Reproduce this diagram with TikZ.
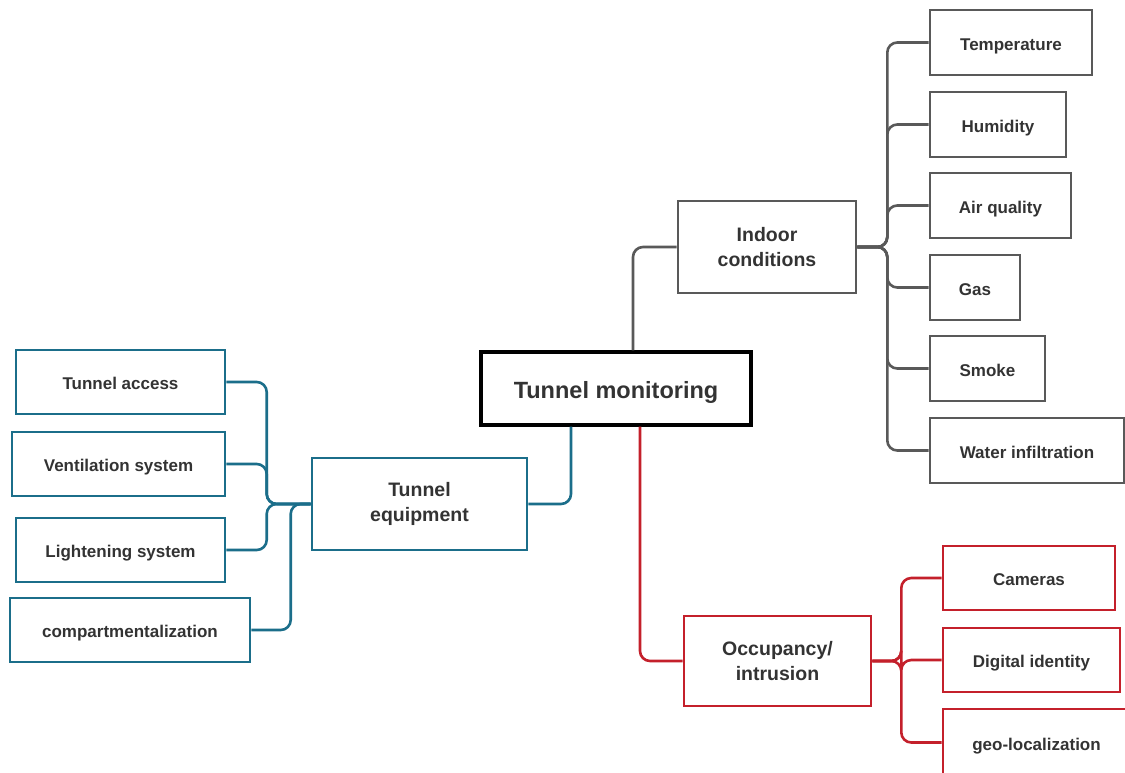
\documentclass[tikz,border=0pt]{standalone}
\usepackage{fontspec}
\setmainfont{Liberation Sans}
\definecolor{cgray}{HTML}{595959}
\definecolor{cteal}{HTML}{1B6E8A}
\definecolor{cred}{HTML}{C4202B}
\definecolor{ctext}{HTML}{333333}
\begin{document}
\begin{tikzpicture}[x=1pt,y=-1pt,
  basebox/.style={draw,line width=2.6pt,inner sep=0pt,align=center,text=ctext},
  box/.style={basebox,text height=18.6pt,text depth=3.6pt,
    font=\fontsize{17}{21}\selectfont\bfseries},
  midbox/.style={basebox,font=\fontsize{19.5}{25}\selectfont\bfseries},
  rootbox/.style={basebox,draw=black,line width=3.2pt,text height=23.9pt,text depth=4.9pt,
    font=\fontsize{23.5}{28}\selectfont\bfseries},
  link/.style={line width=2.6pt,rounded corners=10pt}]
\clip (0,0) rectangle (1125,772);
\fill[white] (0,0) rectangle (1125,772);
% root
\node[rootbox,minimum width=270pt,minimum height=73pt] (root) at (616,388.5) {Tunnel monitoring};
% indoor
\node[midbox,draw=cgray,minimum width=178pt,minimum height=92pt] (ind) at (767,247) {Indoor\\conditions};
\node[box,draw=cgray,minimum width=162pt,minimum height=65pt] (temp) at (1011,42.5) {Temperature};
\node[box,draw=cgray,minimum width=136pt,minimum height=65pt] (hum) at (998,124.5) {Humidity};
\node[box,draw=cgray,minimum width=141pt,minimum height=65pt] (air) at (1000.5,205.5) {Air quality};
\node[box,draw=cgray,minimum width=90pt,minimum height=65pt] (gas) at (975,287.5) {Gas};
\node[box,draw=cgray,minimum width=115pt,minimum height=65pt] (smoke) at (987.5,368.5) {Smoke};
\node[box,draw=cgray,minimum width=194pt,minimum height=65pt] (water) at (1027,450.5) {Water infiltration};
% equipment
\node[midbox,draw=cteal,minimum width=215pt,minimum height=92pt] (te) at (419.5,504) {Tunnel\\equipment};
\node[box,draw=cteal,minimum width=209pt,minimum height=64pt] (ta) at (120.5,382) {Tunnel access};
\node[box,draw=cteal,minimum width=213pt,minimum height=64pt] (vs) at (118.5,464) {Ventilation system};
\node[box,draw=cteal,minimum width=209pt,minimum height=64pt] (ls) at (120.5,550) {Lightening system};
\node[box,draw=cteal,minimum width=240pt,minimum height=64pt] (comp) at (130,630) {compartmentalization};
% occupancy
\node[midbox,draw=cred,minimum width=187pt,minimum height=90pt] (occ) at (777.5,661) {Occupancy/\\intrusion};
\node[box,draw=cred,minimum width=172pt,minimum height=64pt] (cam) at (1029,578) {Cameras};
\node[box,draw=cred,minimum width=177pt,minimum height=64pt] (dig) at (1031.5,660) {Digital identity};
\node[box,draw=cred,minimum width=187pt,minimum height=67pt] (geo) at (1036.5,742.5) {geo-localization};
% connectors
\draw[link,cgray] ([xshift=17pt]root.north) |- (ind.west);
\foreach \n in {temp,hum,air,gas,smoke,water}
  \draw[link,cgray] (ind.east) -- ++(30,0) |- (\n.west);
\draw[link,cteal] ([xshift=-45pt]root.south) |- (te.east);
\foreach \n in {ta,vs,ls}
  \draw[link,cteal] (te.west) -- ++(-44,0) |- (\n.east);
\draw[link,cteal] (te.west) -- ++(-20,0) |- (comp.east);
\draw[link,cred] ([xshift=24pt]root.south) |- (occ.west);
\foreach \n in {cam,dig,geo}
  \draw[link,cred] (occ.east) -- ++(29,0) |- (\n.west);
\end{tikzpicture}
\end{document}
